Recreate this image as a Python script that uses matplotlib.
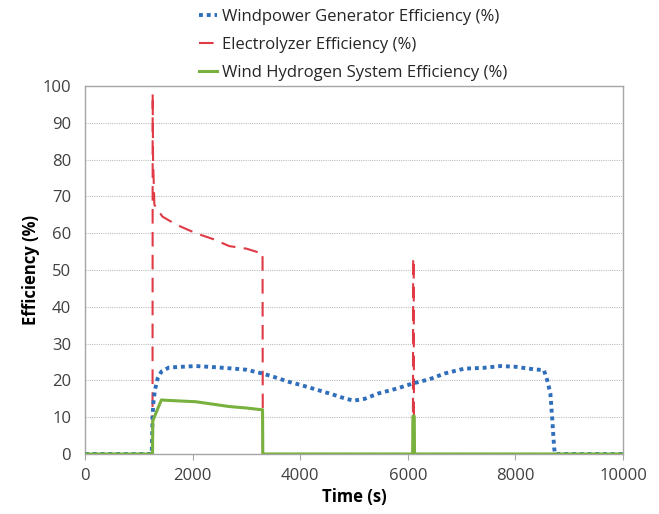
import matplotlib
matplotlib.use("Agg")
import matplotlib.pyplot as plt

plt.rcParams['font.family'] = ['Open Sans', 'DejaVu Sans']

# Windpower generator efficiency (%)
wind_t = [0, 1240, 1255, 1270, 1300, 1350, 1420, 1560, 1800, 2060, 2400, 2680, 3000, 3290,
          3500, 3790, 4000, 4300, 4600, 4850, 5000, 5200, 5440, 5800, 6100, 6400, 6690,
          7050, 7400, 7730, 8000, 8350, 8530, 8590, 8650, 8690, 8720, 8740, 10000]
wind_v = [0, 0, 10, 13.8, 17.4, 20.5, 22.4, 23.5, 23.7, 23.9, 23.6, 23.3, 22.9, 21.9,
          21.0, 19.6, 18.8, 17.5, 16.2, 15.0, 14.5, 15.0, 16.4, 17.8, 19.2, 20.3, 21.9,
          23.2, 23.4, 23.9, 23.7, 23.0, 22.8, 20.1, 16.5, 8.4, 1.6, 0, 0]

# Electrolyzer efficiency (%)
elec_t = [0, 1255, 1258, 1265, 1290, 1440, 1700, 2060, 2400, 2680, 3000, 3200, 3300, 3305,
          6095, 6100, 6110, 6115, 10000]
elec_v = [0, 0, 98, 80, 67.7, 64.5, 62.3, 60.0, 58.3, 56.5, 55.8, 54.9, 54.7, 0,
          0, 53.2, 53.2, 0, 0]

# Wind hydrogen system efficiency (%)
sys_t = [0, 1255, 1260, 1290, 1420, 1500, 2060, 2680, 3000, 3300, 3305,
         6090, 6095, 6120, 6125, 10000]
sys_v = [0, 0, 9.0, 10.1, 14.7, 14.6, 14.2, 12.9, 12.5, 12.0, 0,
         0, 10.3, 10.3, 0, 0]

labels = ["Windpower Generator Efficiency (%)",
          "Electrolyzer Efficiency (%)",
          "Wind Hydrogen System Efficiency (%)"]

fig = plt.figure(figsize=(6.59, 5.14), dpi=100)
ax = fig.add_axes([85/659, 1-454/514, (623-85)/659, (454-86)/514])

ax.plot(wind_t, wind_v, color='#2F6EBA', linestyle=(0, (1, 1)), linewidth=2.8, label=labels[0], zorder=3)
ax.plot(elec_t, elec_v, color='#E03A45', linestyle=(0, (7, 4)), linewidth=1.5, label=labels[1], zorder=2)
ax.plot(sys_t, sys_v, color='#78B13E', linestyle='-', linewidth=2.2, label=labels[2], zorder=4)

ax.set_xlim(0, 10000)
ax.set_ylim(0, 100)
ax.set_xticks(range(0, 10001, 2000))
ax.set_yticks(range(0, 101, 10))
ax.grid(axis='y', color='#BFBFBF', linestyle=(0, (1, 1)), linewidth=0.8)
ax.set_axisbelow(True)
for s in ax.spines.values():
    s.set_color('#A6A6A6')
    s.set_linewidth(1.0)
ax.tick_params(axis='x', length=4, color='#A6A6A6', labelsize=12, labelcolor='#404040', pad=6)
ax.tick_params(axis='y', length=0, labelsize=12, labelcolor='#404040', pad=10)

ax.set_xlabel('Time (s)', fontsize=12, fontweight='bold', labelpad=3)
ax.set_ylabel('Efficiency (%)', fontsize=12, fontweight='bold', labelpad=2)

leg = fig.legend(loc='upper left', bbox_to_anchor=(199/659, 1-9/514), frameon=False,
                 borderaxespad=0, borderpad=0,
                 fontsize=12, handlelength=1.1, handletextpad=0.25, labelspacing=0.72,
                 labelcolor='#262626')

fig.savefig('out.png', dpi=100)
